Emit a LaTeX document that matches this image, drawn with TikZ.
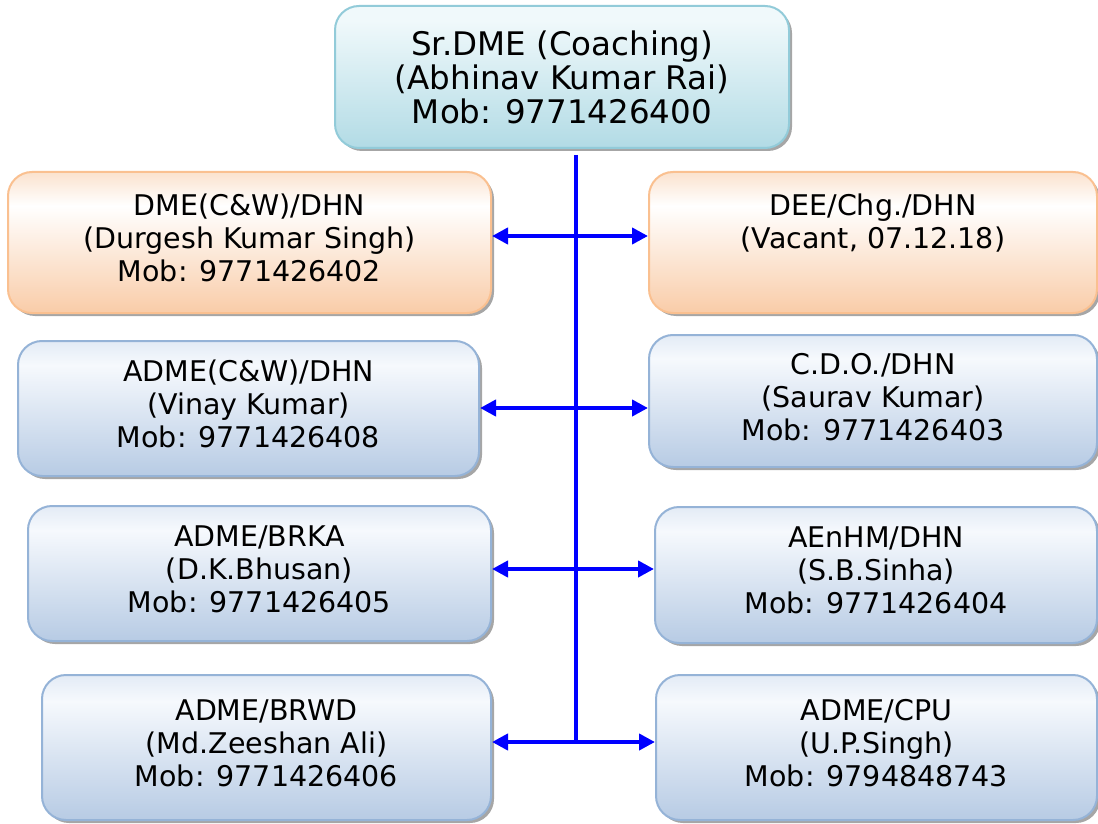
\documentclass[tikz,border=0pt]{standalone}
\usepackage{fontspec}
\setmainfont{DejaVu Sans}
\usetikzlibrary{arrows.meta,shadows}
\definecolor{lineblue}{RGB}{0,0,255}
\definecolor{tealedge}{RGB}{146,203,217}
\definecolor{tealtop}{RGB}{240,249,251}
\definecolor{tealbot}{RGB}{178,219,229}
\definecolor{orangeedge}{RGB}{250,192,144}
\definecolor{orangetop}{RGB}{251,226,206}
\definecolor{orangebot}{RGB}{249,204,168}
\definecolor{blueedge}{RGB}{149,179,215}
\definecolor{bluetop}{RGB}{246,249,253}
\definecolor{bluebot}{RGB}{183,203,228}
\pgfdeclareverticalshading{tealfill}{100bp}{color(0bp)=(tealbot); color(25bp)=(tealbot); color(70bp)=(tealtop); color(100bp)=(tealtop)}
\pgfdeclareverticalshading{orangefill}{100bp}{color(0bp)=(orangebot); color(25bp)=(orangebot); color(63bp)=(white); color(75bp)=(orangetop); color(100bp)=(orangetop)}
\pgfdeclareverticalshading{bluefill}{100bp}{color(0bp)=(bluebot); color(25bp)=(bluebot); color(66bp)=(bluetop); color(75bp)=(bluetop!70!bluebot); color(100bp)=(bluetop!70!bluebot)}
\begin{document}
\begin{tikzpicture}[x=1pt,y=-1pt,
  box/.style={draw,line width=2pt,rounded corners=24pt,align=center,inner sep=0pt,
    font=\fontsize{28.5}{33}\selectfont,text depth=9pt,
    drop shadow={shadow xshift=3pt,shadow yshift=-3pt,fill=black,opacity=0.35}},
  tealbox/.style={box,draw=tealedge,shading=tealfill},
  orangebox/.style={box,draw=orangeedge,shading=orangefill},
  bluebox/.style={box,draw=blueedge,shading=bluefill},
  spine/.style={lineblue,line width=4pt},
  biarrow/.style={lineblue,line width=4pt,{Triangle[length=16pt,width=16pt]}-{Triangle[length=16pt,width=16pt]}}]
\path[use as bounding box,fill=white] (0,0) rectangle (1098,824);
\node[tealbox,minimum width=454pt,minimum height=142pt,font=\fontsize{32.5}{34}\selectfont,text depth=0pt] (sdme) at (562,77) {Sr.DME (Coaching)\\(Abhinav Kumar Rai)\\Mob: 9771426400};
\node[orangebox,minimum width=483pt,minimum height=141pt] (dmecw) at (249.5,242.5) {DME(C\&W)/DHN\\(Durgesh Kumar Singh)\\Mob: 9771426402};
\node[orangebox,minimum width=448pt,minimum height=141pt] (dee) at (873,242.5) {DEE/Chg./DHN\\(Vacant, 07.12.18)\\\mbox{}};
\node[bluebox,minimum width=461pt,minimum height=135pt] (admecw) at (248.5,408.5) {ADME(C\&W)/DHN\\(Vinay Kumar)\\Mob: 9771426408};
\node[bluebox,minimum width=448pt,minimum height=132pt] (cdo) at (873,401) {C.D.O./DHN\\(Saurav Kumar)\\Mob: 9771426403};
\node[bluebox,minimum width=463pt,minimum height=135pt] (brka) at (259.5,573.5) {ADME/BRKA\\(D.K.Bhusan)\\Mob: 9771426405};
\node[bluebox,minimum width=442pt,minimum height=136pt] (aenhm) at (876,575) {AEnHM/DHN\\(S.B.Sinha)\\Mob: 9771426404};
\node[bluebox,minimum width=449pt,minimum height=145pt] (brwd) at (266.5,747.5) {ADME/BRWD\\(Md.Zeeshan Ali)\\Mob: 9771426406};
\node[bluebox,minimum width=441pt,minimum height=145pt] (cpu) at (876.5,747.5) {ADME/CPU\\(U.P.Singh)\\Mob: 9794848743};
\coordinate (s0) at (576,155);
\coordinate (j1) at (576,236);
\coordinate (j2) at (576,408);
\coordinate (j3) at (576,569);
\coordinate (j4) at (576,742);
\draw[spine] (s0) -- (j4);
\draw[biarrow] (dmecw.east |- j1) -- (dee.west |- j1);
\draw[biarrow] (admecw.east |- j2) -- (cdo.west |- j2);
\draw[biarrow] (brka.east |- j3) -- (aenhm.west |- j3);
\draw[biarrow] (brwd.east |- j4) -- (cpu.west |- j4);
\end{tikzpicture}
\end{document}
